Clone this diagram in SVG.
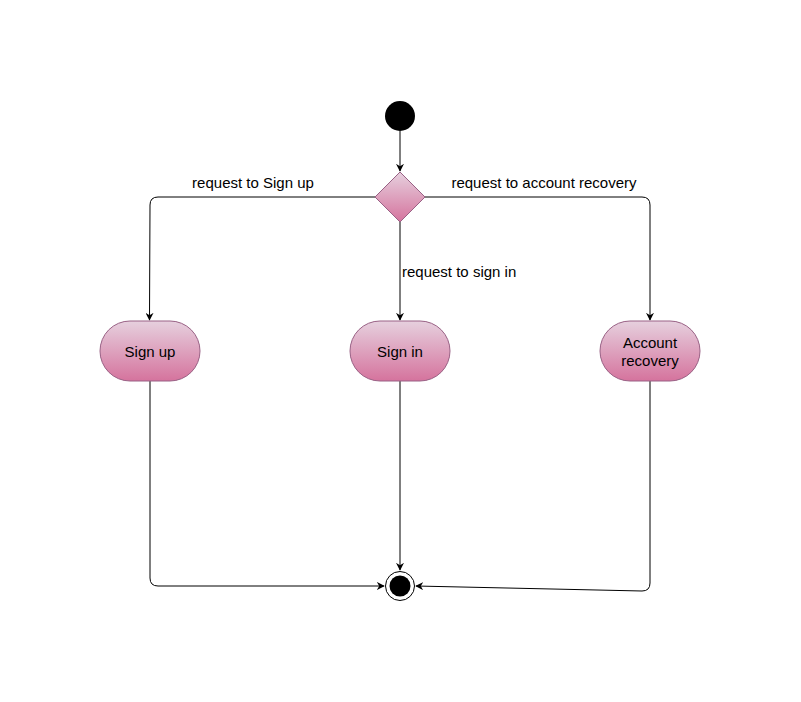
<svg xmlns="http://www.w3.org/2000/svg" width="801" height="702" viewBox="0 0 801 702">
<defs>
<linearGradient id="pink" x1="0" y1="0" x2="0" y2="1">
<stop offset="0" stop-color="#e6d0de"/>
<stop offset="1" stop-color="#d5739d"/>
</linearGradient>
<marker id="arr" viewBox="0 0 10 10" refX="9" refY="5" markerWidth="8" markerHeight="8" markerUnits="userSpaceOnUse" orient="auto">
<path d="M0,0 L10,5 L0,10 L3,5 Z" fill="#000"/>
</marker>
<style>
.edge{fill:none;stroke:#000;stroke-width:1;marker-end:url(#arr)}
.act{fill:url(#pink);stroke:#996185;stroke-width:1}
.t{font-family:"Liberation Sans",Arial,sans-serif;font-size:15px;fill:#000}
.lbl{font-family:"Liberation Sans",Arial,sans-serif;font-size:15px;fill:#000}
</style>
</defs>
<rect width="801" height="702" fill="#fff"/>
<g id="connectors">
<path class="edge" d="M400,131 L400,171"/>
<path class="edge" d="M375,197 L158,197 Q150,197 150,205 L149.5,320"/>
<path class="edge" d="M400,222 L400,320"/>
<path class="edge" d="M425,197 L642,197 Q650,197 650,205 L650,320"/>
<path class="edge" d="M150,381 L150,578 Q150,586 158,586 L384,586"/>
<path class="edge" d="M400,381 L400,570"/>
<path class="edge" d="M650,381 L650,583 Q650,591 642,591 L416,586"/>
<text class="lbl" x="253" y="188" text-anchor="middle">request to Sign up</text>
<text class="lbl" x="544" y="188" text-anchor="middle">request to account recovery</text>
<text class="lbl" x="402" y="277">request to sign in</text>
</g>
<g id="start"><circle cx="400" cy="116" r="15" fill="#000"/></g>
<g id="decision"><path d="M400,172 L425,197 L400,222 L375,197 Z" class="act" stroke-width="2"/></g>
<g id="signup"><rect class="act" x="100" y="321" width="100" height="60" rx="30" ry="30"/><text class="t" x="150" y="357" text-anchor="middle">Sign up</text></g>
<g id="signin"><rect class="act" x="350" y="321" width="100" height="60" rx="30" ry="30"/><text class="t" x="400" y="357" text-anchor="middle">Sign in</text></g>
<g id="recovery"><rect class="act" x="600" y="321" width="100" height="60" rx="30" ry="30"/><text class="t" x="650" y="348" text-anchor="middle">Account</text><text class="t" x="650" y="366" text-anchor="middle">recovery</text></g>
<g id="end"><circle cx="400" cy="586" r="14.5" fill="#fff" stroke="#000"/><circle cx="400" cy="586" r="10.5" fill="#000"/></g>
</svg>
